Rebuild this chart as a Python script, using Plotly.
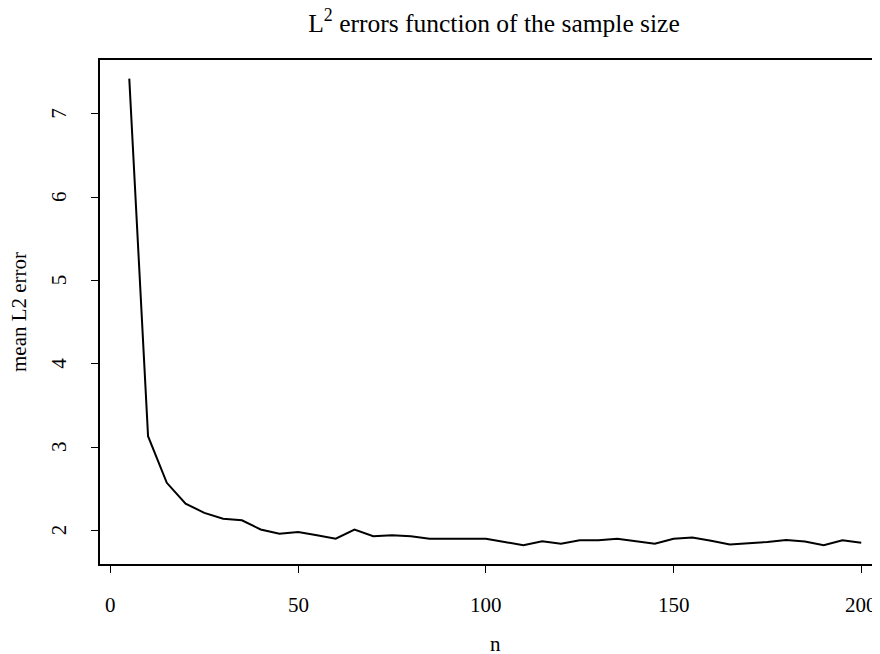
import plotly.graph_objects as go

n_values = [5, 10, 15, 20, 25, 30, 35, 40, 45, 50, 55, 60, 65, 70, 75, 80, 85, 90, 95, 100,
            105, 110, 115, 120, 125, 130, 135, 140, 145, 150, 155, 160, 165, 170, 175, 180,
            185, 190, 195, 200]
mean_l2_error = [7.42, 3.13, 2.57, 2.32, 2.21, 2.14, 2.12, 2.01, 1.96, 1.98, 1.94, 1.90, 2.01,
                 1.93, 1.94, 1.93, 1.90, 1.90, 1.905, 1.90, 1.86, 1.82, 1.87, 1.84, 1.88, 1.88,
                 1.90, 1.87, 1.84, 1.90, 1.915, 1.876, 1.83, 1.845, 1.86, 1.885, 1.865, 1.82,
                 1.88, 1.85]
x_ticks = [0, 50, 100, 150, 200]
y_ticks = [2, 3, 4, 5, 6, 7]

FONT = "Liberation Serif"

fig = go.Figure()
fig.add_trace(go.Scatter(x=n_values, y=mean_l2_error, mode="lines",
                         line=dict(color="black", width=2), showlegend=False,
                         hoverinfo="skip"))

annotations = []
for v in x_ticks:
    annotations.append(dict(text=str(v), xref="x", x=v, yref="paper", y=0, yshift=-41,
                            xanchor="center", yanchor="middle", showarrow=False,
                            font=dict(family=FONT, size=21, color="black")))
for v in y_ticks:
    annotations.append(dict(text=str(v), xref="paper", x=0, xshift=-41, yref="y", y=v,
                            xanchor="center", yanchor="middle", textangle=-90,
                            showarrow=False, font=dict(family=FONT, size=21, color="black")))
annotations.append(dict(text="n", xref="x", x=102.5, yref="paper", y=0, yshift=-80,
                        xanchor="center", yanchor="middle", showarrow=False,
                        font=dict(family=FONT, size=21, color="black")))
annotations.append(dict(text="mean L2 error", xref="paper", x=0, xshift=-81, yref="paper",
                        y=0.5, xanchor="center", yanchor="middle", textangle=-90,
                        showarrow=False, font=dict(family=FONT, size=21, color="black")))

# page body has an 8px margin: the figure is sized/offset to compensate
fig.update_layout(
    width=872, height=646,
    margin=dict(l=92, r=0, t=52, b=90),
    plot_bgcolor="white", paper_bgcolor="white",
    font=dict(family=FONT, size=21, color="black"),
    title=dict(text="L<sup>2</sup> errors function of the sample size",
               x=(494 - 8) / 872, xanchor="center", y=1 - 15 / 646, yanchor="middle",
               font=dict(family=FONT, size=25.5, color="black")),
    xaxis=dict(range=[-2.8, 205.0], tickvals=x_ticks, showticklabels=False,
               ticks="outside", ticklen=7,
               tickwidth=1.3, tickcolor="black", showgrid=False, zeroline=False,
               showline=True, linecolor="black", linewidth=1.8, mirror=True),
    yaxis=dict(range=[1.596, 7.644], tickvals=y_ticks, showticklabels=False,
               ticks="outside", ticklen=7,
               tickwidth=1.3, tickcolor="black", showgrid=False, zeroline=False,
               showline=True, linecolor="black", linewidth=1.8),
    annotations=annotations,
)

fig.write_html("out.html")
